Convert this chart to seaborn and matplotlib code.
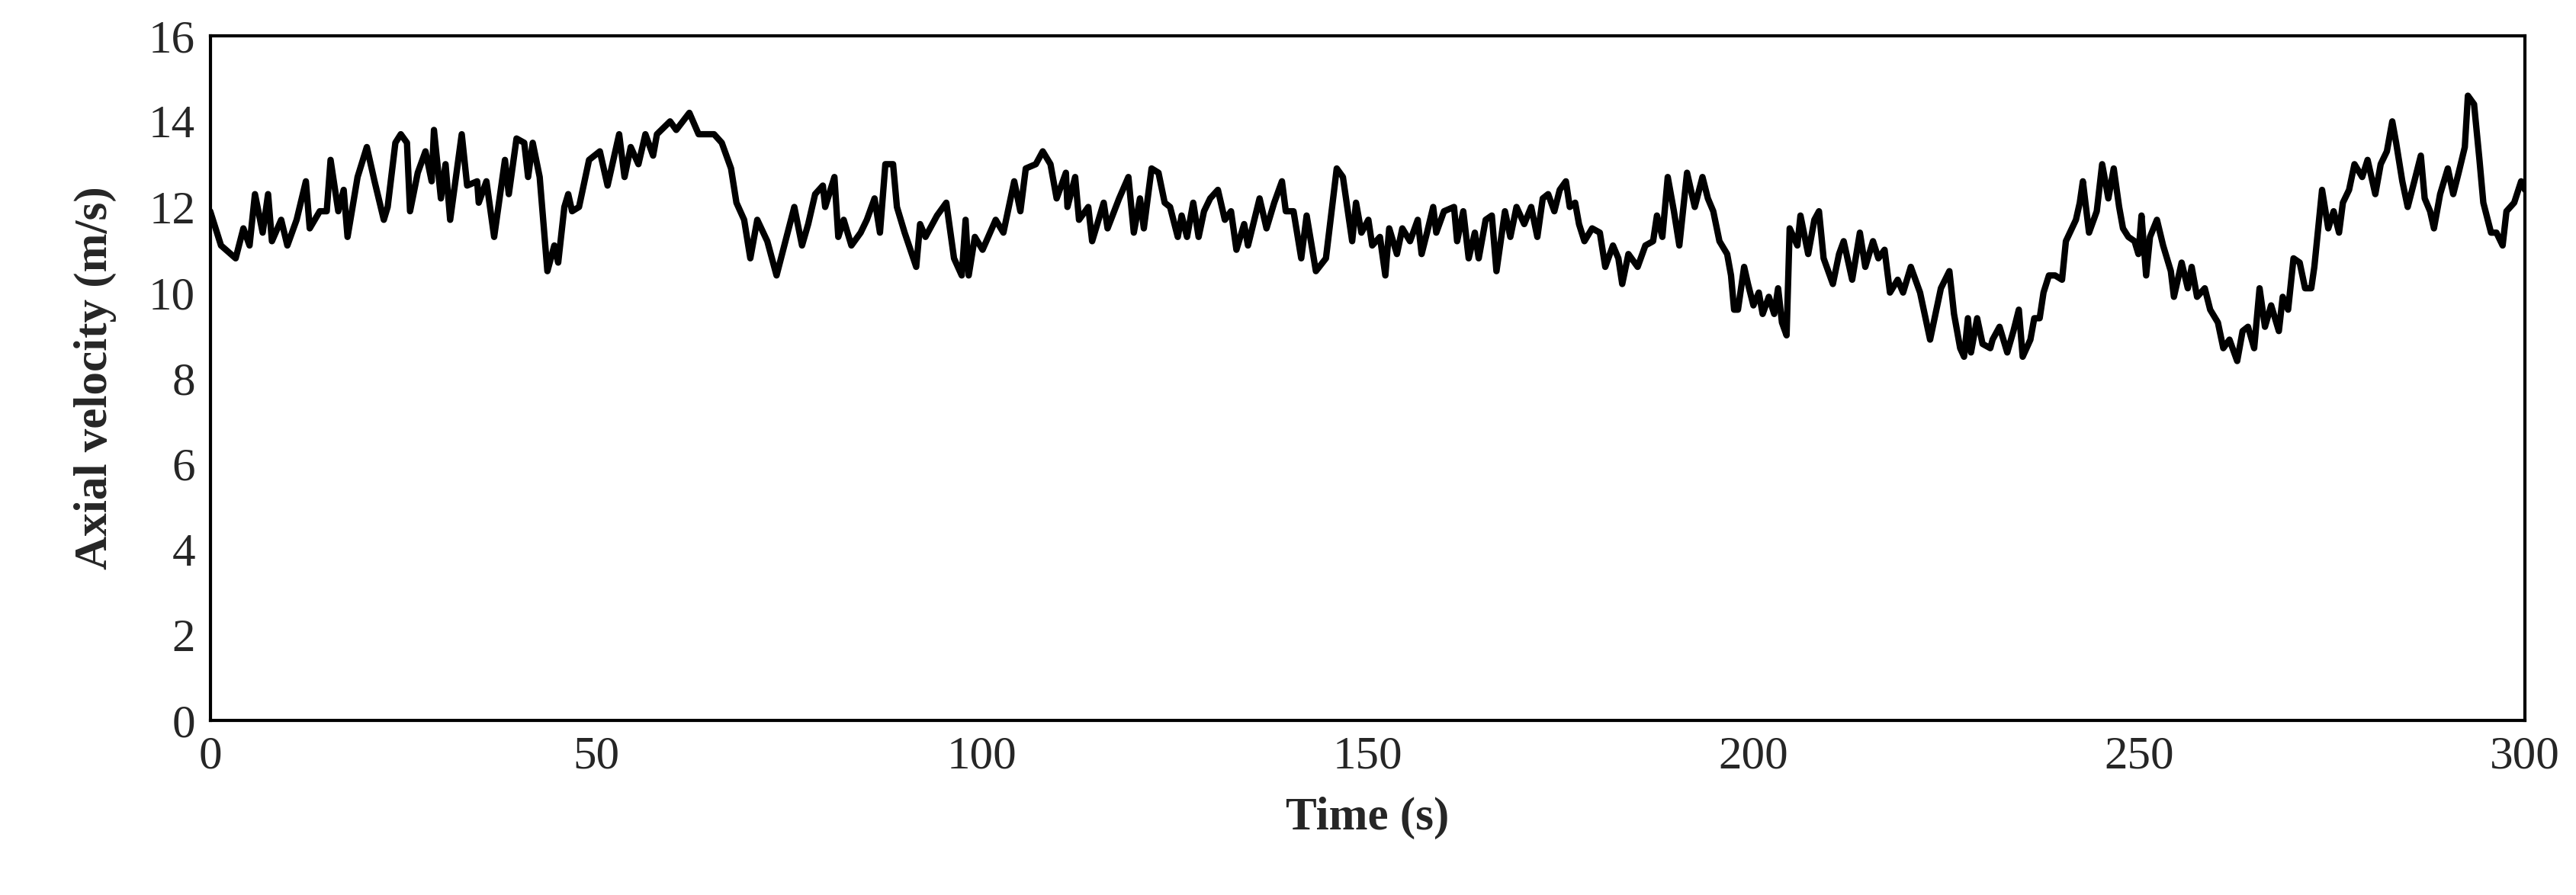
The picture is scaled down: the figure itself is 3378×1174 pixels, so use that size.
import matplotlib
matplotlib.use("Agg")
import matplotlib.pyplot as plt
import seaborn as sns
import pandas as pd

time_s = [0, 1.4, 3.3, 4.3, 5.1, 5.8, 6.8, 7.5, 8.0, 9.2, 10.0, 11.2, 12.4, 12.9, 14.2, 15.1, 15.6, 16.6, 17.3, 17.8,
          19.1, 20.3, 21.3, 22.5, 23.0, 24.0, 24.7, 25.5, 25.9, 26.9, 27.9, 28.7, 29.0, 29.9, 30.5, 31.1, 32.6, 33.3,
          34.6, 34.8, 35.8, 36.8, 38.2, 38.7, 39.7, 40.7, 41.2, 41.8, 42.7, 43.7, 44.6, 45.1, 45.9, 46.4, 46.9, 47.8,
          49.1, 50.5, 51.5, 53.0, 53.7, 54.5, 55.5, 56.4, 57.4, 57.9, 59.6, 60.4, 62.1, 63.3, 65.3, 66.3, 67.5, 68.2,
          69.2, 70.0, 70.9, 72.2, 73.4,
          75.7, 76.7, 77.5, 78.4, 79.4, 79.7, 80.9, 81.4, 82.1, 83.1, 84.3, 85.1, 86.1, 86.8, 87.5, 88.5, 89.0, 90.0,
          91.5, 92.0, 92.7, 94.2, 95.4, 96.4, 97.4, 97.9, 98.3, 99.1, 100.1, 101.8, 102.8, 104.2, 105.0, 105.7, 107.0,
          107.9, 108.9, 109.7, 110.9, 111.1, 112.1, 112.6, 113.8, 114.3, 115.8, 116.3, 117.8, 119.0, 119.7, 120.5,
          121.0, 122.0, 122.9, 123.7, 124.4, 125.4, 125.9, 126.6, 127.4, 128.1, 128.8, 129.6, 130.6, 131.5, 132.3,
          133.0, 134.0, 134.5, 136.0, 136.9, 137.9, 138.9, 139.4, 140.4, 141.4, 142.1, 143.3, 144.6, 146.0, 146.8,
          148.0, 148.5, 149.2,
          150.1, 150.6, 151.6, 152.3, 152.8, 153.8, 154.5, 155.5, 156.5, 157.0, 157.7, 158.5, 158.9, 159.9, 161.2,
          161.6, 162.4, 163.1, 163.9, 164.4, 165.3, 166.1, 166.7, 167.8, 168.5, 169.3, 170.3, 171.2, 172.0, 172.7,
          173.4, 174.2, 174.9, 175.7, 176.2, 176.9, 177.4, 178.1, 179.1, 180.1, 180.8, 181.8, 182.5, 183.0, 183.8,
          185.0, 186.0, 187.0, 187.5, 188.2, 188.9, 189.7, 190.4, 191.4, 192.4, 193.4, 194.1, 194.8, 195.6, 196.6,
          197.1, 197.5, 198.0, 198.8, 199.3, 200.0, 200.7, 201.2, 202.0, 202.7, 203.2, 203.7, 204.3, 204.7, 205.7,
          206.1, 207.1, 207.9, 208.5, 209.1, 210.3, 211.1, 211.7, 212.8, 213.8, 214.5, 215.5, 216.2, 217.0, 217.7,
          218.7, 219.4, 220.4, 221.6, 222.9, 224.3,
          225.4, 226.0, 226.8, 227.3, 227.8, 228.2, 229.0, 229.7, 230.7, 231.0, 231.9, 232.9, 233.7, 234.4, 234.9,
          235.9, 236.4, 237.1, 237.6, 238.3, 239.1, 240.0, 240.5, 241.8, 242.3, 242.7, 243.5, 244.5, 245.2, 246.0,
          246.7, 247.4, 247.9, 248.6, 249.4, 249.9, 250.3, 250.9, 251.4, 252.3, 253.1, 254.1, 254.5, 255.5, 256.3,
          256.8, 257.5, 258.5, 259.2, 260.2, 260.9, 261.7, 262.7, 263.4, 264.1, 264.9, 265.6, 266.3, 267.1, 268.1,
          268.6, 269.3, 270.0, 270.8, 271.5, 272.3, 272.7, 273.7, 274.5, 275.2, 275.9, 276.4, 277.2, 277.9, 278.9,
          279.6, 280.6, 281.3, 282.1, 282.8, 283.3, 284.1, 284.8, 285.8, 286.5, 287.0, 287.7, 288.2, 289.0, 290.0,
          290.7, 291.4, 292.2, 292.6, 293.4, 294.1, 294.6, 295.6, 296.3, 297.1, 297.6, 298.6, 299.5, 300.0]

velocity = [11.9, 11.1, 10.8, 11.5, 11.1, 12.3, 11.4, 12.3, 11.2, 11.7, 11.1, 11.7, 12.6, 11.5, 11.9, 11.9, 13.1, 11.9,
            12.4, 11.3, 12.7, 13.4, 12.6, 11.7, 12.0, 13.5, 13.7, 13.5, 11.9, 12.8, 13.3, 12.6, 13.8, 12.2, 13.0, 11.7,
            13.7, 12.5, 12.6, 12.1, 12.6, 11.3, 13.1, 12.3, 13.6, 13.5, 12.7, 13.5, 12.7, 10.5, 11.1, 10.7, 12.0, 12.3,
            11.9, 12.0, 13.1, 13.3, 12.5, 13.7, 12.7, 13.4, 13.0, 13.7, 13.2, 13.7, 14.0, 13.8, 14.2, 13.7, 13.7, 13.5,
            12.9, 12.1, 11.7, 10.8, 11.7, 11.2, 10.4,
            12.0, 11.1, 11.6, 12.3, 12.5, 12.0, 12.7, 11.3, 11.7, 11.1, 11.4, 11.7, 12.2, 11.4, 13.0, 13.0, 12.0, 11.4,
            10.6, 11.6, 11.3, 11.8, 12.1, 10.8, 10.4, 11.7, 10.4, 11.3, 11.0, 11.7, 11.4, 12.6, 11.9, 12.9, 13.0, 13.3,
            13.0, 12.2, 12.8, 12.0, 12.7, 11.7, 12.0, 11.2, 12.1, 11.5, 12.2, 12.7, 11.4, 12.2, 11.5, 12.9, 12.8, 12.1,
            12.0, 11.3, 11.8, 11.3, 12.1, 11.3, 11.9, 12.2, 12.4, 11.7, 11.9, 11.0, 11.6, 11.1, 12.2, 11.5, 12.1, 12.6,
            11.9, 11.9, 10.8, 11.8, 10.5, 10.8, 12.9, 12.7, 11.2, 12.1, 11.4,
            11.7, 11.1, 11.3, 10.4, 11.5, 10.9, 11.5, 11.2, 11.7, 10.9, 11.4, 12.0, 11.4, 11.9, 12.0, 11.2, 11.9, 10.8,
            11.4, 10.8, 11.7, 11.8, 10.5, 11.9, 11.3, 12.0, 11.6, 12.0, 11.3, 12.2, 12.3, 11.9, 12.4, 12.6, 12.0, 12.1,
            11.6, 11.2, 11.5, 11.4, 10.6, 11.1, 10.8, 10.2, 10.9, 10.6, 11.1, 11.2, 11.8, 11.3, 12.7, 11.9, 11.1, 12.8,
            12.0, 12.7, 12.2, 11.9, 11.2, 10.9, 10.4, 9.6, 9.6, 10.6, 10.2, 9.7, 10.0, 9.5, 9.9, 9.5, 10.1, 9.3, 9.0,
            11.5, 11.1, 11.8, 10.9, 11.7, 11.9, 10.8, 10.2, 10.9, 11.2, 10.3, 11.4, 10.6, 11.2, 10.8, 11.0, 10.0, 10.3,
            10.0, 10.6, 10.0, 8.9, 10.1,
            10.5, 9.5, 8.7, 8.5, 9.4, 8.6, 9.4, 8.8, 8.7, 8.9, 9.2, 8.6, 9.1, 9.6, 8.5, 8.9, 9.4, 9.4, 10.0, 10.4, 10.4,
            10.3, 11.2, 11.7, 12.1, 12.6, 11.4, 11.9, 13.0, 12.2, 12.9, 12.0, 11.5, 11.3, 11.2, 10.9, 11.8, 10.4, 11.3,
            11.7, 11.1, 10.5, 9.9, 10.7, 10.1, 10.6, 9.9, 10.1, 9.6, 9.3, 8.7, 8.9, 8.4, 9.1, 9.2, 8.7, 10.1, 9.2, 9.7,
            9.1, 9.9, 9.6, 10.8, 10.7, 10.1, 10.1, 10.6, 12.4, 11.5, 11.9, 11.4, 12.1, 12.4, 13.0, 12.7, 13.1, 12.3,
            13.0, 13.3, 14.0, 13.5, 12.6, 12.0, 12.7, 13.2, 12.2, 11.9, 11.5, 12.3, 12.9, 12.3, 12.8, 13.4, 14.6, 14.4,
            13.1, 12.1, 11.4, 11.4, 11.1, 11.9, 12.1, 12.6, 12.4]

x_ticks = [0, 50, 100, 150, 200, 250, 300]
y_ticks = [0, 2, 4, 6, 8, 10, 12, 14, 16]

df = pd.DataFrame({"Time (s)": time_s, "Axial velocity (m/s)": velocity})

sns.set_style("white")
plt.rcParams["font.family"] = ["Liberation Serif", "DejaVu Serif"]

fig = plt.figure(figsize=(33.78, 11.74), dpi=100)
ax = fig.add_axes([0.0816, 0.195, 0.8986, 0.765])
sns.lineplot(data=df, x="Time (s)", y="Axial velocity (m/s)", color="black", linewidth=6, ax=ax,
             sort=False, estimator=None)
ax.set_xlim(0, 300)
ax.set_ylim(0, 16)
ax.set_xticks(x_ticks)
ax.set_yticks(y_ticks)
ax.tick_params(axis="both", direction="in", length=12, width=3, labelsize=44, pad=14)
for s in ax.spines.values():
    s.set_visible(True)
    s.set_color("black")
    s.set_linewidth(3)
ax.set_xlabel("Time (s)", fontsize=44, fontweight="bold", labelpad=18)
ax.set_ylabel("Axial velocity (m/s)", fontsize=44, fontweight="bold", labelpad=30)
fig.savefig("out.png", dpi=100)
